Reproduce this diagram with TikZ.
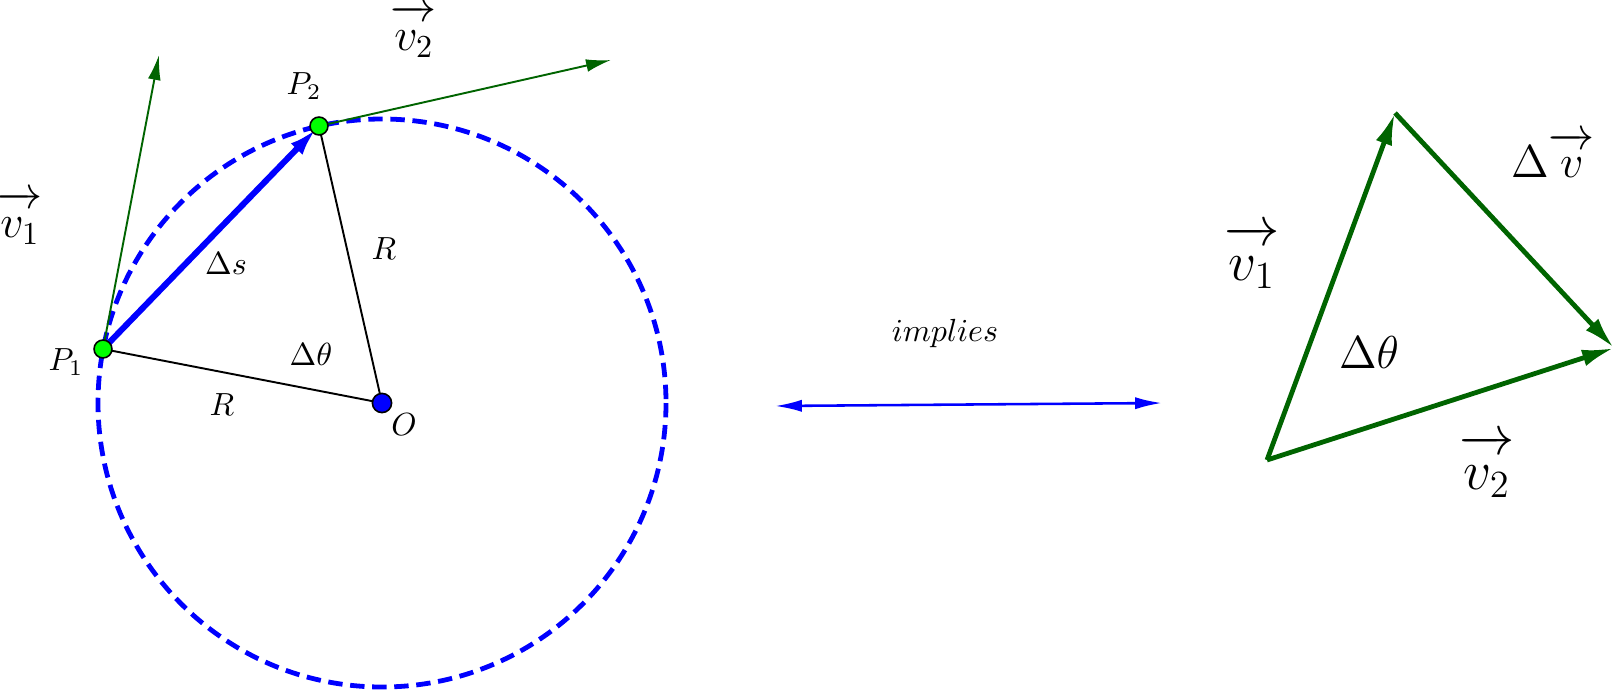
\documentclass[tikz,border=0pt]{standalone}
\usetikzlibrary{arrows.meta}
\definecolor{vgreen}{RGB}{0,100,0}
\definecolor{ptgreen}{RGB}{0,255,0}
\begin{document}
\begin{tikzpicture}[x=0.3125pt,y=-0.3125pt,
  circ/.style={blue,line width=1.5pt,dash pattern=on 4.5pt off 2.4pt},
  tang/.style={vgreen,line width=0.6pt,-{Latex[length=7.8pt,width=4pt]}},
  chord/.style={blue,line width=1.9pt,-{Latex[length=9pt,width=5pt]}},
  radius line/.style={black,line width=0.6pt},
  pt/.style={circle,draw=black,line width=0.5pt,inner sep=0pt,minimum size=5.6pt},
  tri/.style={vgreen,line width=1.5pt,-{Latex[length=10pt,width=5.3pt]}},
  dbl/.style={blue,line width=0.8pt,{Latex[length=8.4pt,width=3.8pt]}-{Latex[length=8.4pt,width=3.8pt]}},
  lbl/.style={inner sep=0pt,anchor=center}]
\useasboundingbox (0,0) rectangle (1615,690);
% positions
\coordinate (o) at (382,403);
\coordinate (p1) at (103,349);
\coordinate (p2) at (319,126);
\coordinate (t1) at (159,55);
\coordinate (t2) at (611,60);
% circle
\draw[circ] (o) circle[radius=284];
% tangent vectors
\draw[tang] (p1) -- (t1);
\draw[tang] (p2) -- (t2);
% radii
\draw[radius line] (p1) -- (o);
\draw[radius line] (p2) -- (o);
% chord
\draw[chord,shorten >=1pt] (p1) -- (p2);
% points
\node[pt,fill=ptgreen] (P1) at (p1) {};
\node[pt,fill=ptgreen] (P2) at (p2) {};
\node[pt,fill=blue,minimum size=6pt] (O) at (o) {};
% left labels
\node[lbl] (lv1) at (20,218) {\Large$\overrightarrow{\vphantom{l}v_1}$};
\node[lbl] (lv2) at (414,31) {\Large$\overrightarrow{\vphantom{l}v_2}$};
\node[lbl] (lP1) at (66,362) {$P_1$};
\node[lbl] (lP2) at (304,86) {$P_2$};
\node[lbl] (lds) at (226,264) {$\Delta s$};
\node[lbl] (lR1) at (384,249) {$R$};
\node[lbl] (lR2) at (222,405) {$R$};
\node[lbl] (ldt) at (311,354) {$\Delta\theta$};
\node[lbl] (lO) at (404,425) {$O$};
% middle
\node[lbl] (impl) at (945,333) {$implies$};
\coordinate (dl) at (775,406);
\coordinate (dr) at (1162,403);
\draw[dbl] (dl) -- (dr);
% triangle
\coordinate (a) at (1267,460);
\coordinate (b) at (1395,113);
\coordinate (c) at (1614,348);
\draw[tri] (a) -- (b);
\draw[tri] (b) -- (c);
\draw[tri] (a) -- (c);
\node[lbl] (rv1) at (1252,257) {\LARGE$\overrightarrow{\vphantom{l}v_1}$};
\node[lbl] (rv2) at (1487,466) {\LARGE$\overrightarrow{\vphantom{l}v_2}$};
\node[lbl] (rdv) at (1553,155) {\Large$\Delta\overrightarrow{\vphantom{l}v}$};
\node[lbl] (rdt) at (1369,352) {\Large$\Delta\theta$};
\end{tikzpicture}
\end{document}
